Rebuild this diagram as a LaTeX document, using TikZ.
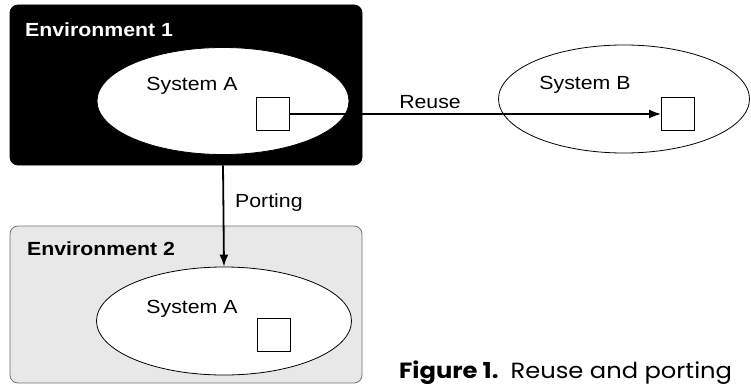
\documentclass[tikz,border=0pt]{standalone}
\usepackage{fontspec}
\setmainfont{Liberation Sans}[FakeStretch=1.12]
\newfontfamily\capfont{Poppins}[FakeStretch=1.1]
\usetikzlibrary{arrows.meta,shapes.geometric}

\tikzset{
  envbox/.style={draw, rounded corners=8pt, line width=0.8pt, inner sep=0pt},
  system/.style={draw, ellipse, fill=white, line width=0.8pt, inner sep=0pt},
  module/.style={draw, fill=white, line width=0.8pt, minimum size=33pt, inner sep=0pt},
  link/.style={line width=1.8pt, -{Latex[length=12pt,width=9pt]}},
  txt/.style={font=\fontsize{19}{22}\selectfont, inner sep=0pt, anchor=base}
}

\begin{document}
\begin{tikzpicture}[x=1pt,y=-1pt]
\useasboundingbox (0,0) rectangle (751,385);

% Two environments
\node[envbox, fill=black, minimum width=352pt, minimum height=160pt] (env1) at (186,85) {};
\node[envbox, draw=black!55, fill=black!9, minimum width=352pt, minimum height=157pt] (env2) at (186,304.5) {};
\node[txt, anchor=base west, text=white, font=\fontsize{19}{22}\selectfont\bfseries] (env1lbl) at (25,37) {Environment 1};
\node[txt, anchor=base west, font=\fontsize{19}{22}\selectfont\bfseries] (env2lbl) at (27,255) {Environment 2};

% Systems
\node[system, minimum width=252pt, minimum height=107pt] (sysA) at (223,101) {};
\node[system, fill=none, minimum width=251pt, minimum height=108pt] (sysB) at (624,99) {};
\node[system, minimum width=255pt, minimum height=108pt] (sysA2) at (224,321) {};
\node[txt] (sysAlbl) at (192,91) {System A};
\node[txt] (sysBlbl) at (585,90) {System B};
\node[txt] (sysA2lbl) at (192,313) {System A};

% Modules
\node[module] (modA) at (273,114) {};
\node[module] (modB) at (678,114) {};
\node[module] (modA2) at (274,335) {};

% Reuse and porting
\draw[link] (modA.east) -- (modB.west);
\draw[link] (env1.south -| sysA.center) -- (sysA2.north);
\node[txt] (reuse) at (430,108) {Reuse};
\node[txt, anchor=base west] (porting) at (235,207) {Porting};

% Caption
\node[anchor=base west, inner sep=0pt, font=\capfont\fontsize{22}{24}\selectfont] (caption) at (399,378)
  {\textbf{Figure 1.}\hspace{12pt}Reuse and porting};

\end{tikzpicture}
\end{document}
